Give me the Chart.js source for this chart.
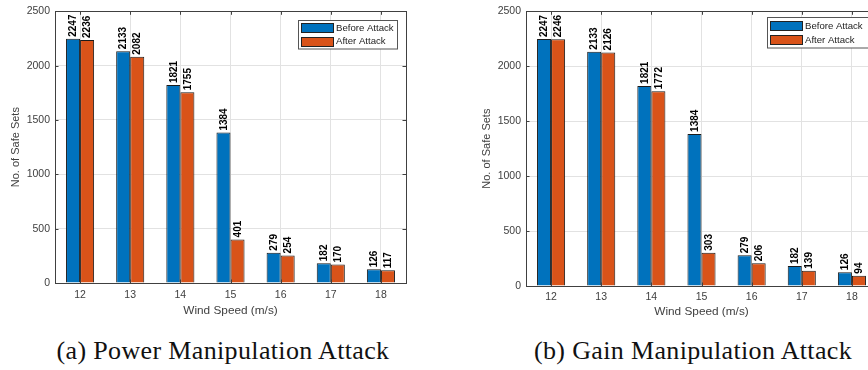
<!DOCTYPE html>
<html>
<head>
<meta charset="utf-8">
<script src="https://cdn.jsdelivr.net/npm/chart.js@4.4.1/dist/chart.umd.min.js"></script>
<style>
  html, body { margin: 0; padding: 0; background: #ffffff; }
  body { width: 868px; height: 370px; overflow: hidden; position: relative; }
  .panel { position: absolute; top: 0; width: 434px; height: 330px; }
  .caption { position: absolute; top: 338px; height: 26px; line-height: 26px;
    font-family: "Liberation Serif", "Times New Roman", serif; font-size: 26px;
    letter-spacing: 0.35px; color: #111; white-space: nowrap; text-align: center; width: 420px; }
</style>
</head>
<body>
<div class="panel" style="left:0px;"><canvas id="c1" width="434" height="330"></canvas></div>
<div class="panel" style="left:471px;"><canvas id="c2" width="434" height="330"></canvas></div>
<div class="caption" id="cap1" style="left:13px;"></div>
<div class="caption" id="cap2" style="left:483px;"></div>
<script>
const categories = ['12', '13', '14', '15', '16', '17', '18'];
const beforeAttack = [2247, 2133, 1821, 1384, 279, 182, 126];
const afterPowerAttack = [2236, 2082, 1755, 401, 254, 170, 117];
const afterGainAttack = [2246, 2126, 1772, 303, 206, 139, 94];
const yTickValues = [0, 500, 1000, 1500, 2000, 2500];
const seriesNames = ['Before Attack', 'After Attack'];
const xAxisTitle = 'Wind Speed (m/s)';
const yAxisTitle = 'No. of Safe Sets';
const captions = ['(a) Power Manipulation Attack', '(b) Gain Manipulation Attack'];

const BLUE = '#0072BD';
const ORANGE = '#D95319';
const AXIS = '#404040';
const GRID = '#e2e2e2';
const SANS = '"Liberation Sans", Arial, Helvetica, sans-serif';

document.getElementById('cap1').textContent = captions[0];
document.getElementById('cap2').textContent = captions[1];

const framePlugin = {
  id: 'matlabFrame',
  afterDatasetsDraw(chart) {
    const {ctx, chartArea: a, scales} = chart;
    ctx.save();
    // data labels
    ctx.fillStyle = '#000';
    ctx.font = 'bold 10px ' + SANS;
    ctx.textAlign = 'left';
    ctx.textBaseline = 'middle';
    chart.data.datasets.forEach((ds, di) => {
      const meta = chart.getDatasetMeta(di);
      meta.data.forEach((bar, i) => {
        ctx.save();
        ctx.translate(bar.x, bar.y - 2);
        ctx.rotate(-Math.PI / 2);
        ctx.fillText(String(ds.data[i]), 0, 0.5);
        ctx.restore();
      });
    });
    // frame
    ctx.strokeStyle = AXIS;
    ctx.lineWidth = 1;
    ctx.strokeRect(Math.round(a.left) + 0.5, Math.round(a.top) + 0.5,
      Math.round(a.right) - Math.round(a.left), Math.round(a.bottom) - Math.round(a.top));
    // inside tick marks
    const ys = scales.y, xs = scales.x;
    ctx.beginPath();
    yTickValues.forEach(v => {
      const y = Math.round(ys.getPixelForValue(v)) + 0.5;
      ctx.moveTo(a.left, y); ctx.lineTo(a.left + 3.5, y);
      ctx.moveTo(a.right, y); ctx.lineTo(a.right - 3.5, y);
    });
    categories.forEach((c, i) => {
      const x = Math.round(xs.getPixelForValue(i)) + 0.5;
      ctx.moveTo(x, a.bottom); ctx.lineTo(x, a.bottom - 3.5);
      ctx.moveTo(x, a.top); ctx.lineTo(x, a.top + 3.5);
    });
    ctx.stroke();
    // legend
    const L = chart.options.plugins.matlabFrame;
    const bx = Math.round(a.right - L.dx - L.w) + 0.5;
    const by = Math.round(a.top + L.dy) + 0.5;
    ctx.fillStyle = '#fff';
    ctx.fillRect(bx, by, L.w, L.h);
    ctx.strokeStyle = '#555';
    ctx.strokeRect(bx, by, L.w, L.h);
    const colors = [BLUE, ORANGE];
    ctx.font = '9.6px ' + SANS;
    ctx.textAlign = 'left';
    ctx.textBaseline = 'middle';
    seriesNames.forEach((name, i) => {
      const cy = by + L.h * (i === 0 ? 0.27 : 0.73);
      const sx = bx + 3;
      ctx.fillStyle = colors[i];
      ctx.fillRect(sx, Math.round(cy - 4.7) + 0.5, 32, 9);
      ctx.strokeStyle = '#222';
      ctx.strokeRect(sx, Math.round(cy - 4.7) + 0.5, 32, 9);
      ctx.fillStyle = '#222';
      ctx.fillText(name, sx + 34.5, cy + 0.5);
    });
    ctx.restore();
  }
};

function makeChart(id, afterData, p) {
  return new Chart(document.getElementById(id), {
    type: 'bar',
    data: {
      labels: categories,
      datasets: [
        { label: seriesNames[0], data: beforeAttack, backgroundColor: BLUE,
          borderColor: '#1a1a1a', borderWidth: 1, borderSkipped: 'start',
          categoryPercentage: 0.56, barPercentage: 1.0 },
        { label: seriesNames[1], data: afterData, backgroundColor: ORANGE,
          borderColor: '#1a1a1a', borderWidth: 1, borderSkipped: 'start',
          categoryPercentage: 0.56, barPercentage: 1.0 }
      ]
    },
    options: {
      responsive: false,
      animation: false,
      devicePixelRatio: 1,
      layout: { padding: { left: 0, right: 28, top: p.top, bottom: p.bottom } },
      plugins: {
        legend: { display: false },
        tooltip: { enabled: false },
        matlabFrame: p.legend
      },
      scales: {
        x: {
          type: 'category',
          offset: true,
          grid: { display: true, offset: false, color: GRID, drawTicks: false },
          border: { display: false },
          ticks: { color: AXIS, font: { family: SANS, size: 10.5 }, padding: p.tickPad, maxRotation: 0 },
          title: { display: true, text: xAxisTitle, color: AXIS,
                   font: { family: SANS, size: 11.8 }, padding: { top: 0, bottom: 0 } },
          afterFit(s) { s.height = p.xH; }
        },
        y: {
          min: 0, max: 2500,
          grid: { color: GRID, drawTicks: false },
          border: { display: false },
          afterBuildTicks(s) { s.ticks = yTickValues.map(v => ({ value: v })); },
          ticks: { color: AXIS, font: { family: SANS, size: 10.5 }, padding: 5,
                   callback: (v) => String(v) },
          title: { display: true, text: yAxisTitle, color: AXIS,
                   font: { family: SANS, size: 11 }, padding: { top: 9, bottom: 0 } },
          afterFit(s) { s.width = 55; }
        }
      }
    },
    plugins: [framePlugin]
  });
}

makeChart('c1', afterPowerAttack, { top: 6, bottom: 12, xH: 35, tickPad: 6,
  legend: { dx: 9, dy: 8.3, w: 99, h: 28.5 } });
makeChart('c2', afterGainAttack, { top: 10, bottom: 11, xH: 33, tickPad: 5,
  legend: { dx: 9, dy: 6, w: 101, h: 30.5 } });
</script>
</body>
</html>
